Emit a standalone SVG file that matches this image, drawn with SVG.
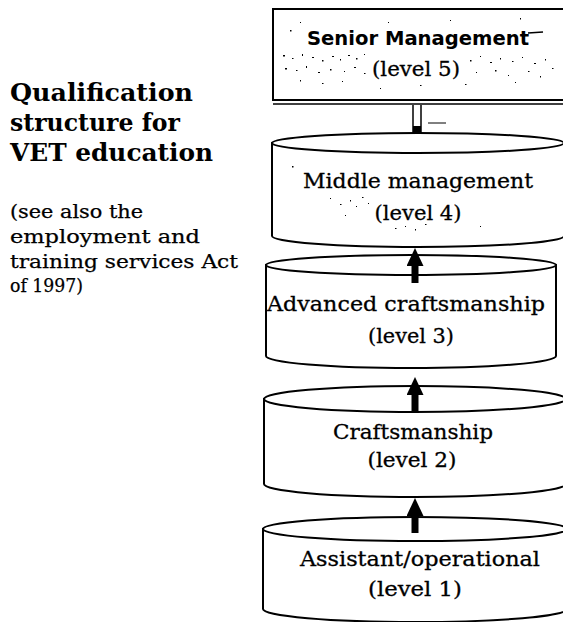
<svg xmlns="http://www.w3.org/2000/svg" width="563" height="622" viewBox="0 0 563 622">
  <style>
    .cyl { fill: #fff; stroke: #000; stroke-width: 2; }
    .lbl { font-family: "DejaVu Serif", "Liberation Serif", serif; font-size: 21px; fill: #000; stroke: #000; stroke-width: 0.3; text-anchor: middle; }
    .title { font-family: "DejaVu Serif", "Liberation Serif", serif; font-size: 25px; font-weight: bold; fill: #000; }
    .note { font-family: "DejaVu Serif", "Liberation Serif", serif; font-size: 18px; fill: #000; stroke: #000; stroke-width: 0.25; }
    .hand { font-family: "DejaVu Sans", "Liberation Sans", sans-serif; font-size: 19px; font-weight: bold; fill: #000; text-anchor: middle; }
    .arrow { stroke: #000; stroke-width: 7; fill: none; }
    .speck { fill: #000; }
  </style>
  <defs>
    <marker id="head" markerUnits="userSpaceOnUse" markerWidth="18" markerHeight="17" viewBox="0 0 18 17" refX="0" refY="8.5" orient="auto">
      <path d="M0,0 L18,8.5 L0,17 z" fill="#000"/>
    </marker>
  </defs>
  <rect width="563" height="622" fill="#fff"/>

  <!-- heading and note -->
  <g id="heading">
    <text class="title" x="10" y="101" textLength="183" lengthAdjust="spacingAndGlyphs">Qualification</text>
    <text class="title" x="10" y="131" textLength="170" lengthAdjust="spacingAndGlyphs">structure for</text>
    <text class="title" x="10" y="161" textLength="203" lengthAdjust="spacingAndGlyphs">VET education</text>
    <text class="note" x="10" y="218" textLength="133" lengthAdjust="spacingAndGlyphs">(see also the</text>
    <text class="note" x="10" y="243" textLength="190" lengthAdjust="spacingAndGlyphs">employment and</text>
    <text class="note" x="10" y="268" textLength="228" lengthAdjust="spacingAndGlyphs">training services Act</text>
    <text class="note" x="10" y="292" textLength="73" lengthAdjust="spacingAndGlyphs">of 1997)</text>
  </g>

  <!-- level 5: box -->
  <g id="level5">
    <rect x="273" y="9" width="300" height="91" fill="#fff" stroke="#000" stroke-width="2"/>
    <line x1="273" y1="104" x2="563" y2="104" stroke="#000" stroke-width="1.5"/>
    <path class="speck" d="M290,30h1.5v1.5h-1.5z M300,22h1v1h-1z M283,55h2v1.5h-2z M292,58h1.5v1h-1.5z M302,54h1v2h-1z M312,57h2v1h-2z M322,60h1.5v1.5h-1.5z M332,56h2v1h-2z M340,59h1v1.5h-1z M348,55h2v1h-2z M356,58h1.5v1.5h-1.5z M364,54h1v1h-1z M285,68h2v1.5h-2z M296,70h1.5v1h-1.5z M306,66h1v2h-1z M318,72h2v1h-2z M330,69h1.5v1.5h-1.5z M344,71h1v1h-1z M354,67h2v1h-2z M364,73h1.5v1h-1.5z M300,80h1v1.5h-1z M322,83h1.5v1h-1.5z M342,81h1v1h-1z M470,60h1.5v1.5h-1.5z M480,56h1v1h-1z M490,62h2v1h-2z M500,58h1v1.5h-1z M512,61h1.5v1h-1.5z M522,57h1v1h-1z M534,63h2v1h-2z M545,59h1v1.5h-1z M476,72h1v1h-1z M495,70h1.5v1.5h-1.5z M508,75h1v1h-1z M528,71h1.5v1h-1.5z M540,76h1v1.5h-1z M552,68h1.5v1h-1.5z M515,82h1v1h-1z M465,84h1.5v1h-1.5z M388,22h1v1h-1z M450,20h1v1h-1z M520,18h1v1.5h-1z M420,85h1.5v1h-1.5z M380,88h1v1h-1z"/>
    <text class="hand" x="418" y="45" textLength="222" lengthAdjust="spacingAndGlyphs">Senior Management</text>
    <line x1="528" y1="33" x2="543" y2="32" stroke="#000" stroke-width="1.5"/>
    <text class="lbl" x="416" y="76" textLength="88" lengthAdjust="spacingAndGlyphs">(level 5)</text>
  </g>

  <!-- level 4 -->
  <g id="level4">
    <path class="cyl" d="M272,143 L272,236 A146,11 0 0 0 564,236 L564,143 z"/>
    <ellipse class="cyl" cx="418" cy="143" rx="146" ry="10"/>
    <path class="speck" d="M330,198h1v1h-1z M340,204h1.5v1h-1.5z M350,200h1v1.5h-1z M356,206h1v1h-1z M362,197h1.5v1h-1.5z M368,203h1v1h-1z M345,215h1v1h-1z M395,228h1.5v1h-1.5z M405,226h1v1h-1z M415,229h1v1.5h-1z M425,224h1.5v1h-1.5z M480,226h1v1h-1z M292,166h1.5v1.5h-1.5z"/>
    <text class="lbl" x="418" y="188" textLength="230" lengthAdjust="spacingAndGlyphs">Middle management</text>
    <text class="lbl" x="418" y="220" textLength="87" lengthAdjust="spacingAndGlyphs">(level 4)</text>
  </g>

  <!-- level 3 -->
  <g id="level3">
    <path class="cyl" d="M266,265 L266,356 A145,12 0 0 0 556,356 L556,265 z"/>
    <ellipse class="cyl" cx="411" cy="265" rx="145" ry="10"/>
    <text class="lbl" x="406" y="311" textLength="278" lengthAdjust="spacingAndGlyphs">Advanced craftsmanship</text>
    <text class="lbl" x="411" y="343" textLength="86" lengthAdjust="spacingAndGlyphs">(level 3)</text>
  </g>

  <!-- level 2 -->
  <g id="level2">
    <path class="cyl" d="M264,399 L264,484 A151,13 0 0 0 566,484 L566,399 z"/>
    <ellipse class="cyl" cx="415" cy="399" rx="151" ry="13"/>
    <text class="lbl" x="413" y="439" textLength="160" lengthAdjust="spacingAndGlyphs">Craftsmanship</text>
    <text class="lbl" x="412" y="467" textLength="89" lengthAdjust="spacingAndGlyphs">(level 2)</text>
  </g>

  <!-- level 1 -->
  <g id="level1">
    <path class="cyl" d="M263,529 L263,609 A152,13 0 0 0 567,609 L567,529 z"/>
    <ellipse class="cyl" cx="415" cy="529" rx="152" ry="12"/>
    <text class="lbl" x="420" y="566" textLength="240" lengthAdjust="spacingAndGlyphs">Assistant/operational</text>
    <text class="lbl" x="415" y="596" textLength="94" lengthAdjust="spacingAndGlyphs">(level 1)</text>
  </g>

  <!-- connectors -->
  <g id="connectors">
    <line x1="413" y1="105" x2="413" y2="133" stroke="#000" stroke-width="1.5"/>
    <line x1="421" y1="105" x2="421" y2="133" stroke="#000" stroke-width="1.5"/>
    <rect x="413" y="126" width="8" height="7" fill="#000"/>
    <line x1="428" y1="123" x2="446" y2="123" stroke="#000" stroke-width="1"/>
    <line class="arrow" x1="415" y1="283" x2="415" y2="266" marker-end="url(#head)"/>
    <line class="arrow" x1="415" y1="412" x2="415" y2="395" marker-end="url(#head)"/>
    <line class="arrow" x1="415" y1="533" x2="415" y2="516" marker-end="url(#head)"/>
  </g>
</svg>
